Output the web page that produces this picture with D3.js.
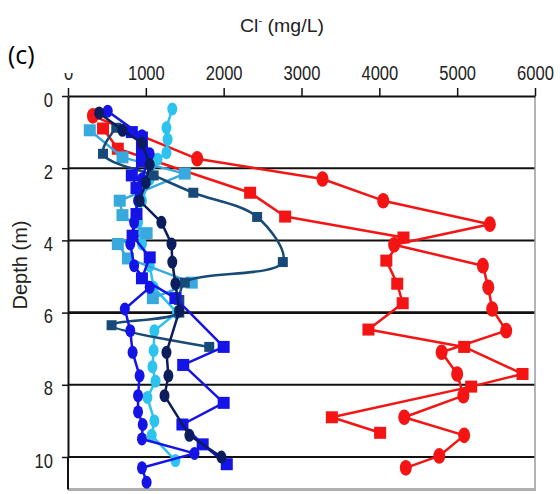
<!DOCTYPE html>
<html>
<head>
<meta charset="utf-8">
<script src="https://cdn.jsdelivr.net/npm/d3@7"></script>
<style>
  body { margin: 0; background: #fff; }
  svg { display: block; }
</style>
</head>
<body>
<div id="root"></div>
<script>
// Cl- (mg/L) vs depth (m) profiles, each series is [Cl, depth]
const xTicks = [0, 1000, 2000, 3000, 4000, 5000, 6000];
const yTicks = [0, 2, 4, 6, 8, 10];

const redCircles = [[320,0.55],[1660,1.74],[3270,2.3],[4050,2.9],[5420,3.55],[4190,4.12],[5330,4.7],[5400,5.3],[5450,5.9],[5630,6.5],[4800,7.1],[5000,7.7],[5080,8.3],[4320,8.9],[5090,9.4],[4770,9.97],[4340,10.3]];
const redSquares = [[450,0.9],[640,1.46],[2340,2.68],[2790,3.34],[4310,3.92],[4090,4.56],[4230,5.2],[4300,5.74],[3860,6.47],[5090,6.95],[5840,7.7],[5180,8.05],[3390,8.9],[4010,9.33]];
const cyanCircles = [[1340,0.36],[1265,0.88],[1280,1.2],[1265,1.57],[1150,1.75],[1050,2.3],[950,2.9],[900,3.5],[950,4.1],[1050,4.7],[1100,5.3],[1400,6.0],[1110,6.5],[1100,7.05],[1085,7.5],[1125,7.9],[1020,8.35],[1110,9.0],[1075,9.4],[1380,10.1]];
const lightSquares = [[280,0.95],[700,1.7],[1500,2.15],[665,2.9],[700,3.3],[1010,3.8],[640,4.1],[770,4.5],[1590,5.17],[1090,5.6]];
const steelSquares = [[620,0.88],[450,1.6],[1100,2.2],[1610,2.68],[2430,3.35],[2760,4.6],[1500,5.17],[1430,5.65],[1430,6.0],[560,6.35],[1815,6.95]];
const blueCircles = [[510,0.42],[950,1.1],[1050,1.6],[950,2.3],[900,2.9],[850,3.5],[800,4.1],[850,4.7],[1050,5.3],[730,5.9],[800,6.5],[830,7.1],[920,7.75],[900,8.3],[900,8.75],[960,9.1],[950,9.5],[1625,9.9],[950,10.3],[1010,10.7]];
const blueSquares = [[820,1.0],[950,1.15],[950,1.47],[950,1.8],[820,2.2],[880,2.55],[880,3.27],[830,3.87],[1050,4.47],[950,5.05],[1380,5.6],[2000,6.95],[1480,7.45],[2000,8.5],[1470,9.1],[1730,9.65],[2040,10.2]];
const navyCircles = [[400,0.47],[700,0.95],[950,1.3],[1050,1.9],[1000,2.4],[920,2.9],[1200,3.5],[1330,4.1],[1340,4.6],[1380,5.2],[1430,5.95],[1265,7.1],[1290,7.75],[1240,8.3],[1560,9.4],[1970,10.0]];

const series = [
  {data: redCircles, color: "#f41414", marker: "circle", r: 6},
  {data: redSquares, color: "#f41414", marker: "square", r: 6},
  {data: cyanCircles, color: "#2cc3ef", marker: "circle", r: 5},
  {data: lightSquares, color: "#38a9de", marker: "square", r: 6},
  {data: steelSquares, color: "#174a78", marker: "square", r: 5, smooth: true},
  {data: blueCircles, color: "#1414e6", marker: "circle", r: 5},
  {data: blueSquares, color: "#1414e6", marker: "square", r: 6},
  {data: navyCircles, color: "#0c1d5e", marker: "circle", r: 5}
];

const width = 560, height = 494;
const x = d3.scaleLinear().domain([0, 6000]).range([68, 535]);
const y = d3.scaleLinear().domain([0, 10]).range([96, 457]);
const bottom = y(10.9);

const svg = d3.select("#root").append("svg")
  .attr("width", width)
  .attr("height", height);

// horizontal grid
svg.append("g").selectAll("line")
  .data(yTicks.slice(1))
  .enter().append("line")
  .attr("x1", x(0)).attr("x2", x(6000))
  .attr("y1", d => y(d)).attr("y2", d => y(d))
  .attr("stroke", "#111")
  .attr("stroke-width", d => d == 6 ? 2.6 : 2);

// right and bottom frame (grey), left axis runs on to the bottom
svg.append("line").attr("x1", x(6000)).attr("x2", x(6000)).attr("y1", y(0)).attr("y2", bottom)
  .attr("stroke", "#9a9a9a").attr("stroke-width", 1.5);
svg.append("line").attr("x1", x(0)).attr("x2", x(6000) + 1).attr("y1", bottom).attr("y2", bottom)
  .attr("stroke", "#b0b0b0").attr("stroke-width", 3);
svg.append("line").attr("x1", x(0)).attr("x2", x(0)).attr("y1", y(10)).attr("y2", bottom)
  .attr("stroke", "#111").attr("stroke-width", 2);

// axes
const xAxis = svg.append("g")
  .attr("transform", "translate(0," + y(0) + ")")
  .call(d3.axisTop(x).tickValues(xTicks).tickFormat(d3.format("d")).tickSize(8).tickSizeOuter(0).tickPadding(8));
const yAxis = svg.append("g")
  .attr("transform", "translate(" + x(0) + ",0)")
  .call(d3.axisLeft(y).tickValues(yTicks).tickFormat(d3.format("d")).tickSize(6).tickSizeOuter(0).tickPadding(9));

[xAxis, yAxis].forEach(g => {
  g.select(".domain").attr("stroke", "#111").attr("stroke-width", 2);
  g.selectAll(".tick line").attr("stroke", "#111").attr("stroke-width", 1.5);
  g.selectAll("text")
    .attr("font-family", "Liberation Sans, Arial, sans-serif")
    .attr("font-size", 20)
    .attr("fill", "#222")
    .attr("lengthAdjust", "spacingAndGlyphs")
    .attr("textLength", d => String(d).length * 9.2);
});
yAxis.selectAll("text").attr("dy", "0.5em");
xAxis.select(".domain").attr("stroke-width", 2.2);

// the "0" at the top is half hidden in the source
svg.append("rect").attr("x", x(0) - 10).attr("y", 50).attr("width", 20).attr("height", 23).attr("fill", "#fff");

// lines and markers
const line = d3.line().x(d => x(d[0])).y(d => y(d[1]));
const smoothLine = d3.line().x(d => x(d[0])).y(d => y(d[1])).curve(d3.curveCatmullRom.alpha(0.5));

const plot = svg.append("g");
for (let s of series) {
  const g = plot.append("g");
  g.append("path")
    .attr("d", (s.smooth ? smoothLine : line)(s.data))
    .attr("fill", "none")
    .attr("stroke", s.color)
    .attr("stroke-width", 2.5)
    .attr("stroke-linejoin", "round");
  if (s.marker == "circle") {
    g.selectAll("ellipse")
      .data(s.data)
      .enter().append("ellipse")
      .attr("cx", d => x(d[0]))
      .attr("cy", d => y(d[1]))
      .attr("rx", s.r)
      .attr("ry", s.r * 1.3)
      .attr("fill", s.color);
  } else {
    g.selectAll("rect")
      .data(s.data)
      .enter().append("rect")
      .attr("x", d => x(d[0]) - s.r)
      .attr("y", d => y(d[1]) - s.r)
      .attr("width", s.r * 2)
      .attr("height", s.r * 2)
      .attr("fill", s.color);
  }
}

// titles
svg.append("text")
  .attr("x", 282).attr("y", 32)
  .attr("text-anchor", "middle")
  .attr("font-family", "Liberation Sans, Arial, sans-serif")
  .attr("font-size", 19)
  .attr("fill", "#222")
  .attr("lengthAdjust", "spacingAndGlyphs")
  .attr("textLength", 84)
  .html('Cl<tspan font-size="11" dy="-8">-</tspan><tspan dy="8"> (mg/L)</tspan>');

svg.append("text")
  .attr("x", 8).attr("y", 64)
  .attr("font-family", "Open Sans, Liberation Sans, sans-serif")
  .attr("font-size", 25)
  .attr("fill", "#000")
  .text("(c)");

svg.append("text")
  .attr("transform", "translate(27,265) rotate(-90)")
  .attr("text-anchor", "middle")
  .attr("font-family", "Liberation Sans, Arial, sans-serif")
  .attr("font-size", 20)
  .attr("fill", "#222")
  .text("Depth (m)");
</script>
</body>
</html>
